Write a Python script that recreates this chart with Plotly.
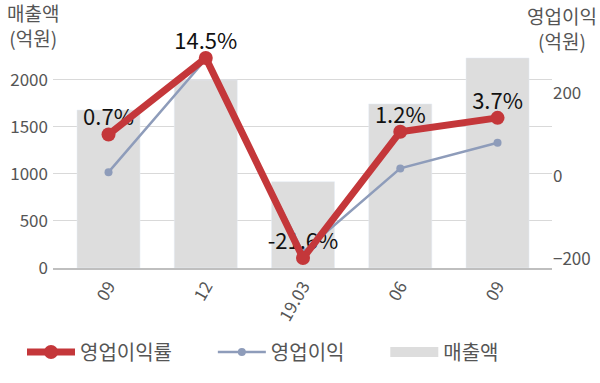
import plotly.graph_objects as go

categories = ["09", "12", "19.03", "06", "09"]
sales = [1680, 2000, 918, 1745, 2234]          # 매출액 (억원)
op_profit = [10, 282, -183, 19, 81]            # 영업이익 (억원)
op_margin = [0.7, 14.5, -21.6, 1.2, 3.7]       # 영업이익률 (%)
margin_labels = [f"{v}%" for v in op_margin]

xs = list(range(len(categories)))
FONT = "Noto Sans CJK KR"
RED = "#C4373A"
BLUE = "#8E9CBA"
BAR = "#DDDDDD"
TXT = "#555555"
PAD = "\u00a0" * 8

ML, MR, MT, MB = 53, 48, 40, 115
W, H = 600, 383
pw = W - ML - MR
ph = H - MT - MB


def px2paper(px, py):
    return (px - ML) / pw, (H - MB - py) / ph


fig = go.Figure()
fig.add_trace(go.Bar(x=xs, y=sales, name="매출액", marker_color=BAR, width=0.648,
                     yaxis="y", showlegend=False))
# legend proxy for the bars (wide grey swatch)
fig.add_trace(go.Scatter(x=[None], y=[None], name="매출액", mode="lines",
                         line=dict(color=BAR, width=15), yaxis="y", legendrank=3))
fig.add_trace(go.Scatter(x=xs, y=op_profit, name="영업이익" + PAD, mode="lines+markers",
                         line=dict(color=BLUE, width=2.5), marker=dict(size=8, color=BLUE),
                         yaxis="y2", legendrank=2))
# data labels, drawn beneath the red line
fig.add_trace(go.Scatter(x=xs, y=op_margin, mode="markers+text", text=margin_labels,
                         textposition="top center", marker=dict(size=4, opacity=0),
                         textfont=dict(size=22, color="#111111", family=FONT),
                         cliponaxis=False, yaxis="y3", showlegend=False, hoverinfo="skip"))
fig.add_trace(go.Scatter(x=xs, y=op_margin, name="영업이익률" + PAD, mode="lines+markers",
                         line=dict(color=RED, width=7), marker=dict(size=14, color=RED),
                         cliponaxis=False, yaxis="y3", legendrank=1))

lx, ly = px2paper(22, 352)
a1x, a1y = px2paper(33, 25)
a2x, a2y = px2paper(562, 28)
annotations = [
    dict(text="매출액<br>(억원)", x=a1x, y=a1y, xref="paper", yref="paper",
         xanchor="center", yanchor="middle",
         showarrow=False, font=dict(size=19, color=TXT)),
    dict(text="영업이익<br>(억원)", x=a2x, y=a2y, xref="paper", yref="paper",
         xanchor="center", yanchor="middle",
         showarrow=False, font=dict(size=19, color=TXT)),
]

fig.update_layout(
    width=W, height=H,
    margin=dict(l=ML, r=MR, t=MT, b=MB, autoexpand=False),
    plot_bgcolor="white", paper_bgcolor="white",
    font=dict(family=FONT, size=17, color=TXT),
    showlegend=True,
    xaxis=dict(range=[-0.571, 4.56], tickvals=xs, ticktext=categories, tickangle=-60,
               showgrid=False, showline=True, linecolor="#BFBFBF", linewidth=1.5,
               ticks="", tickfont=dict(size=17, color=TXT), zeroline=False, automargin=False),
    yaxis=dict(range=[0, 2425], tickvals=[0, 500, 1000, 1500, 2000], showgrid=True,
               gridcolor="#D9D9D9", gridwidth=1, zeroline=False, ticks="",
               ticklabelstandoff=4,
               tickfont=dict(size=17, color=TXT), automargin=False),
    yaxis2=dict(range=[-221, 328.4], tickvals=[-200, 0, 200], overlaying="y", side="right",
                showgrid=False, zeroline=False, ticks="", tickfont=dict(size=17, color=TXT),
                automargin=False),
    yaxis3=dict(range=[-23.4, 17.75], overlaying="y", visible=False, showgrid=False,
                zeroline=False),
    legend=dict(orientation="h", x=lx, xanchor="left", y=ly, yanchor="middle",
                font=dict(size=20, color=TXT, family=FONT), itemwidth=48),
    annotations=annotations,
)

fig.write_html("out.html", config={"displayModeBar": False},
               post_script="document.body.style.margin='0';")
